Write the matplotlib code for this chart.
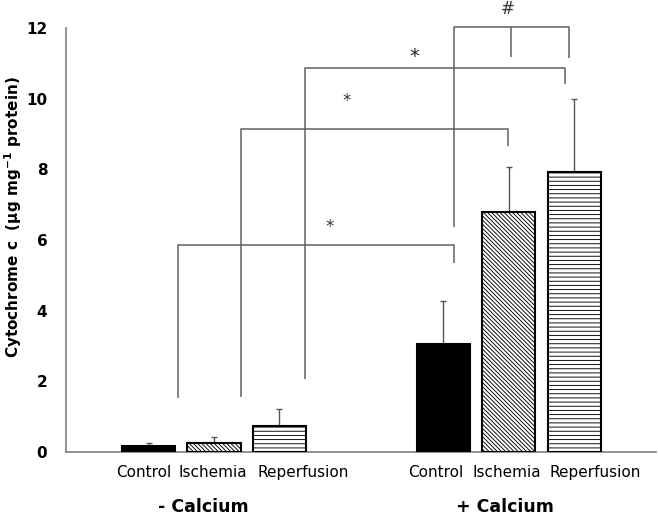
import matplotlib
matplotlib.use("Agg")
import matplotlib.pyplot as plt

# ---- data ----
groups = ["- Calcium", "+ Calcium"]
conditions = ["Control", "Ischemia", "Reperfusion"]
means_no_ca = [0.18, 0.26, 0.75]
errs_no_ca = [0.08, 0.16, 0.46]
means_ca = [3.05, 6.79, 7.93]
errs_ca = [1.22, 1.28, 2.06]
yticks = [0, 2, 4, 6, 8, 10, 12]

# ---- layout / style ----
positions = [0, 1, 2, 4.5, 5.5, 6.5]
hatches = ["", "\\" * 8, "----"]
facecolors = ["black", "white", "white"]
label_x = [-0.08, 0.98, 2.36, 4.38, 5.47, 6.82]
group_x = [0.83, 5.45]

plt.rcParams["font.family"] = ["DejaVu Sans"]
plt.rcParams["hatch.linewidth"] = 0.65
plt.rcParams["hatch.color"] = "#3a3a3a"
plt.rcParams["mathtext.default"] = "bf"

fig = plt.figure(figsize=(6.58, 5.2), dpi=100)
ax = fig.add_axes([66 / 658, 68 / 520, (656 - 66) / 658, (452 - 28) / 520])

means = means_no_ca + means_ca
errs = errs_no_ca + errs_ca
for i, (x, m, e) in enumerate(zip(positions, means, errs)):
    k = i % 3
    ax.bar(x, m, width=0.81, color=facecolors[k], edgecolor="black",
           linewidth=1.5, hatch=hatches[k], zorder=3)
    ax.errorbar(x, m, yerr=[[0], [e]], fmt="none", ecolor="#555555",
                elinewidth=1.0, capsize=2.5, capthick=1.0, zorder=2)

ax.set_xlim(-1.26, 7.75)
ax.set_ylim(0, 12)
ax.set_yticks(yticks)
ax.set_yticklabels([str(t) for t in yticks], fontsize=11, fontweight="bold")
ax.tick_params(axis="y", length=0, pad=13.5)
ax.set_xticks([])
for s in ["top", "right"]:
    ax.spines[s].set_visible(False)
for s in ["left", "bottom"]:
    ax.spines[s].set_color("#808080")
    ax.spines[s].set_linewidth(1.2)

# condition labels
for x, lab in zip(label_x, conditions * 2):
    ax.text(x, -0.58, lab, ha="center", va="center", fontsize=11)
for x, lab in zip(group_x, groups):
    ax.text(x, -1.56, lab, ha="center", va="center", fontsize=12.5,
            fontweight="bold")

fig.text(13 / 658, 1 - 217 / 520, r"Cytochrome c  (µg mg$^{-1}$ protein)",
         rotation=90, ha="center", va="center", fontsize=11, fontweight="bold")

# significance brackets
lc = "#606060"
lw = 1.1
def seg(xs, ys):
    ax.plot(xs, ys, color=lc, lw=lw, clip_on=False, zorder=1,
            solid_capstyle="butt")

# bracket A
seg([0.455, 0.455, 4.66, 4.66], [1.54, 5.87, 5.87, 5.36])
ax.text(2.77, 6.38, "*", ha="center", va="center", fontsize=12, color="#333333")
# bracket B
seg([1.42, 1.42, 5.49, 5.49], [1.56, 9.14, 9.14, 8.67])
ax.text(3.03, 9.93, "*", ha="center", va="center", fontsize=12, color="#333333")
# bracket C
seg([2.39, 2.39, 6.36, 6.36], [2.07, 10.87, 10.87, 10.41])
ax.text(4.06, 11.2, "*", ha="center", va="center", fontsize=14, color="#222222")
# bracket #
seg([4.66, 4.66, 6.42, 6.42], [6.37, 12.02, 12.02, 11.16])
seg([5.54, 5.54], [12.02, 11.19])
ax.text(5.48, 12.53, "#", ha="center", va="center", fontsize=12,
        color="#333333", clip_on=False)

fig.savefig("out.png", dpi=100)
